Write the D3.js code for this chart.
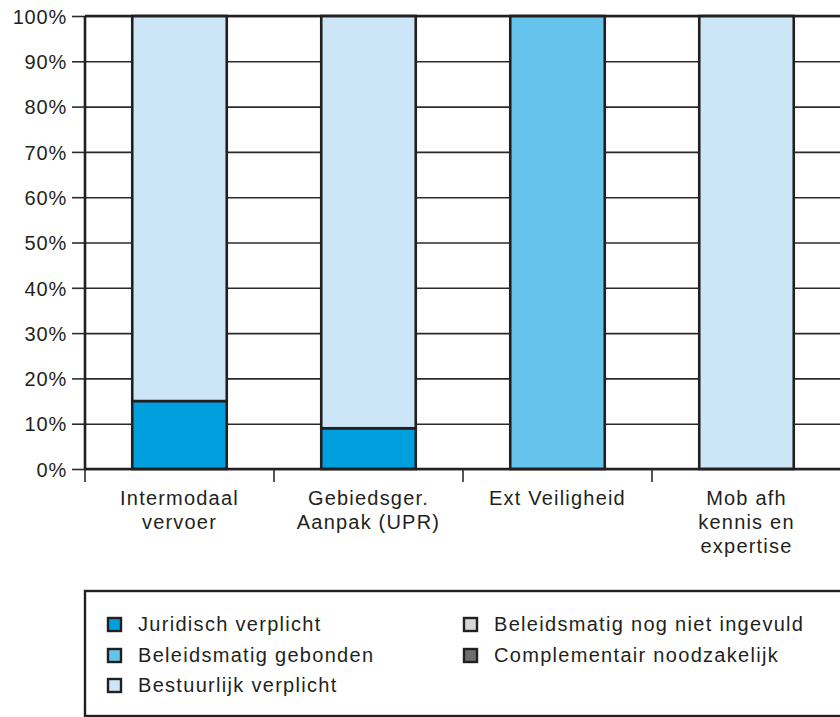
<!DOCTYPE html>
<html>
<head>
<meta charset="utf-8">
<script src="https://cdn.jsdelivr.net/npm/d3@7"></script>
<style>
  body { margin: 0; background: #fff; }
  svg text { font-family: "Liberation Sans", Arial, sans-serif; fill: #231f20; }
</style>
</head>
<body>
<svg id="chart" width="840" height="717"></svg>
<script>
// categories (x axis), each label split in lines
var categories = ["Intermodaal vervoer", "Gebiedsger. Aanpak (UPR)", "Ext Veiligheid", "Mob afh kennis en expertise"];
var catLines = [["Intermodaal", "vervoer"], ["Gebiedsger.", "Aanpak (UPR)"], ["Ext Veiligheid"], ["Mob afh", "kennis en", "expertise"]];

// series, in stack order (percent)
var seriesNames = ["Juridisch verplicht", "Beleidsmatig gebonden", "Bestuurlijk verplicht", "Beleidsmatig nog niet ingevuld", "Complementair noodzakelijk"];
var juridisch = [15, 9, 0, 0];
var beleidsGebonden = [0, 0, 100, 0];
var bestuurlijk = [85, 91, 0, 100];
var nogNiet = [0, 0, 0, 0];
var complementair = [0, 0, 0, 0];
var seriesColors = ["#00a0df", "#66c3ec", "#cde6f7", "#d6d6d6", "#6f6f70"];

var yTicks = [0, 10, 20, 30, 40, 50, 60, 70, 80, 90, 100];

var svg = d3.select("svg#chart"),
    margin = {left: 85, top: 16},
    width = 756,
    height = 453;

var g = svg.append("g").attr("transform", "translate(" + margin.left + "," + margin.top + ")");

var x = d3.scaleBand()
    .domain(categories)
    .range([0, width])
    .paddingInner(0.5)
    .paddingOuter(0.25);

var y = d3.scaleLinear()
    .domain([0, 100])
    .range([height, 0]);

// build table for stacking
var table = categories.map(function(c, i) {
    return {
        cat: c,
        s0: juridisch[i], s1: beleidsGebonden[i], s2: bestuurlijk[i], s3: nogNiet[i], s4: complementair[i]
    };
});
var stack = d3.stack().keys(["s0", "s1", "s2", "s3", "s4"]);
var stacked = stack(table);

// grid lines
g.append("g")
    .call(d3.axisLeft(y).tickValues(yTicks).tickSize(-width).tickFormat(""))
    .call(function(a) {
        a.select(".domain").remove();
        a.selectAll("line").attr("stroke", "#2b2b2b").attr("stroke-width", 1.6);
    });

// left axis with outer ticks and labels
g.append("g")
    .call(d3.axisLeft(y).tickValues(yTicks).tickSize(13).tickPadding(5).tickFormat(function(d) { return d + "%"; }))
    .call(function(a) {
        a.select(".domain").remove();
        a.selectAll("line").attr("stroke", "#2b2b2b").attr("stroke-width", 1.6);
        a.selectAll("text").style("font-size", "20px").style("letter-spacing", "0.8px")
            .style("font-family", "Liberation Sans, Arial, sans-serif").attr("fill", "#231f20").attr("dy", "0.36em");
    });

// bars
var layers = g.selectAll("g.layer")
    .data(stacked)
    .enter()
    .append("g")
    .attr("class", "layer")
    .attr("fill", function(d, i) { return seriesColors[i]; });

layers.selectAll("rect")
    .data(function(d) { return d.filter(function(p) { return p[1] - p[0] > 0; }); })
    .enter()
    .append("rect")
    .attr("x", function(d) { return x(d.data.cat); })
    .attr("y", function(d) { return y(d[1]); })
    .attr("width", x.bandwidth())
    .attr("height", function(d) { return y(d[0]) - y(d[1]); })
    .attr("stroke", "#231f20")
    .attr("stroke-width", 2.6);

// frame: left, top, bottom lines
g.append("line").attr("x1", 0).attr("x2", 0).attr("y1", 0).attr("y2", height)
    .attr("stroke", "#231f20").attr("stroke-width", 2.6);
g.append("line").attr("x1", 0).attr("x2", width).attr("y1", 0).attr("y2", 0)
    .attr("stroke", "#231f20").attr("stroke-width", 2.6);
g.append("line").attr("x1", 0).attr("x2", width).attr("y1", height).attr("y2", height)
    .attr("stroke", "#231f20").attr("stroke-width", 2.6);

// category separator ticks under the axis
var step = x.step();
g.selectAll("line.cattick")
    .data(categories)
    .enter()
    .append("line")
    .attr("class", "cattick")
    .attr("x1", function(d) { return x(d) - step * 0.25; })
    .attr("x2", function(d) { return x(d) - step * 0.25; })
    .attr("y1", height)
    .attr("y2", height + 13)
    .attr("stroke", "#2b2b2b")
    .attr("stroke-width", 1.6);

// category labels
g.selectAll("text.cat")
    .data(categories)
    .enter()
    .append("text")
    .attr("class", "cat")
    .attr("text-anchor", "middle")
    .style("font-size", "20px")
    .style("letter-spacing", "1.2px")
    .attr("transform", function(d) { return "translate(" + (x(d) + x.bandwidth() / 2) + "," + (height + 36) + ")"; })
    .each(function(d, i) {
        var t = d3.select(this);
        catLines[i].forEach(function(line, j) {
            t.append("tspan").attr("x", 0).attr("y", j * 24).text(line);
        });
    });

// legend
var legend = svg.append("g").attr("transform", "translate(85,591)");
legend.append("rect")
    .attr("x", 0).attr("y", 0).attr("width", 770).attr("height", 125)
    .attr("fill", "none").attr("stroke", "#231f20").attr("stroke-width", 2.4);

var legendPos = [[22, 26], [22, 57], [22, 87], [378, 26], [378, 57]];
var items = legend.selectAll("g.item")
    .data(seriesNames)
    .enter()
    .append("g")
    .attr("class", "item")
    .attr("transform", function(d, i) { return "translate(" + legendPos[i][0] + "," + legendPos[i][1] + ")"; });

items.append("rect")
    .attr("x", 1).attr("y", 1).attr("width", 13).attr("height", 13)
    .attr("fill", function(d, i) { return seriesColors[i]; })
    .attr("stroke", "#231f20").attr("stroke-width", 2.4);

items.append("text")
    .attr("x", 31)
    .attr("y", 14)
    .style("font-size", "20px")
    .style("letter-spacing", "1.3px")
    .text(function(d) { return d; });
</script>
</body>
</html>
